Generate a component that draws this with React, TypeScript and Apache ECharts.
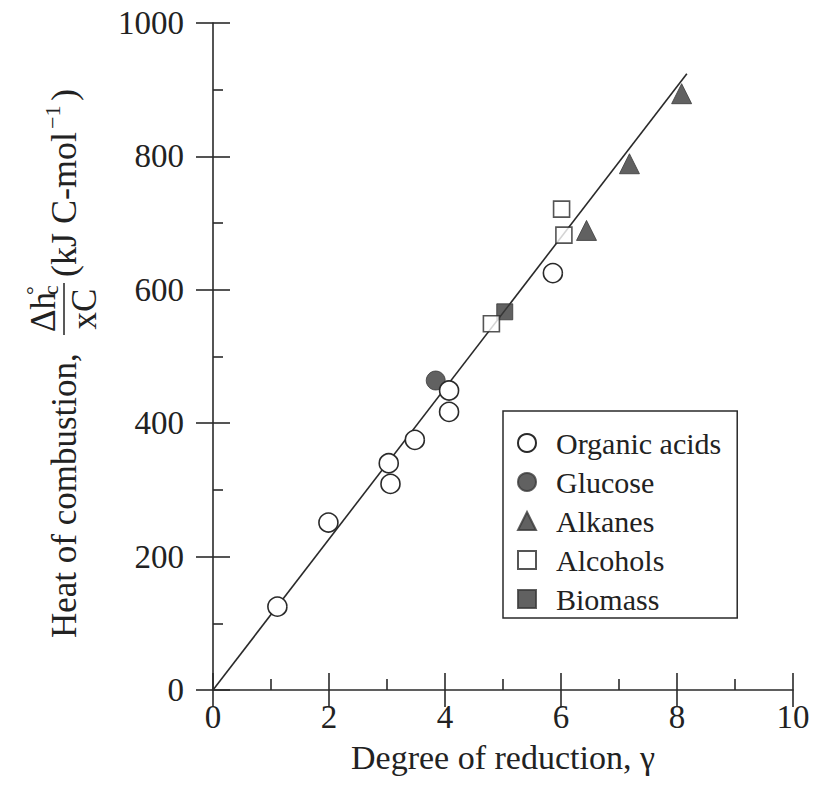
import React, { useEffect, useRef } from "react";
import * as echarts from "echarts";

const xTicks = { min: 0, max: 10, interval: 2 };
const yTicks = { min: 0, max: 1000, interval: 200 };

const organicAcids: [number, number][] = [
  [1.11, 125], [1.99, 251], [3.03, 340], [3.06, 309], [3.48, 375],
  [4.07, 449], [4.07, 417], [5.86, 625],
];
const glucose: [number, number][] = [[3.84, 464]];
const alkanes: [number, number][] = [[6.44, 689], [7.18, 789], [8.08, 894]];
const alcohols: [number, number][] = [[4.8, 549], [6.01, 721], [6.05, 682]];
const biomass: [number, number][] = [[5.03, 567]];
const fitLine: [number, number][] = [[0, 0], [8.17, 924]];

const legendNames = ["Organic acids", "Glucose", "Alkanes", "Alcohols", "Biomass"];

const FONT = '"Liberation Serif", "Times New Roman", serif';
const INK = "#222";
const DARK = "#3a3a3a";

export default function App() {
  const ref = useRef<HTMLDivElement>(null);
  useEffect(() => {
    if (!ref.current) return;
    const chart = echarts.init(ref.current, undefined, { renderer: "svg" });
    const lineStyle = { color: "#2a2a2a", width: 1.6 };
    const baseX = {
      type: "value" as const,
      min: xTicks.min,
      max: xTicks.max,
      interval: xTicks.interval,
      splitLine: { show: false },
      gridIndex: 0,
    };
    const baseY = {
      type: "value" as const,
      min: yTicks.min,
      max: yTicks.max,
      interval: yTicks.interval,
      splitLine: { show: false },
      gridIndex: 0,
    };
    const txt = (text: string, x: number, y: number, size: number, align: string, va: string) => ({
      type: "text",
      x,
      y,
      style: { text, fontSize: size, fontFamily: FONT, fill: INK, align, verticalAlign: va },
    });
    chart.setOption({
      animation: false,
      backgroundColor: "#ffffff",
      grid: { left: 213, right: 28, top: 23, bottom: 111, containLabel: false },
      xAxis: [
        {
          ...baseX,
          position: "bottom",
          axisLine: { show: true, lineStyle },
          axisTick: { show: true, inside: true, length: 17, lineStyle },
          minorTick: { show: true, splitNumber: 2, length: 11, lineStyle },
          axisLabel: { fontSize: 33, fontFamily: FONT, color: INK, margin: 10, formatter: (v: number) => String(v) },
          name: "Degree of reduction, γ",
          nameLocation: "middle",
          nameGap: 50,
          nameTextStyle: { fontSize: 34, fontFamily: FONT, color: INK },
        },
        {
          ...baseX,
          position: "bottom",
          axisLine: { show: false },
          axisTick: { show: true, inside: false, length: 17, lineStyle },
          minorTick: { show: false },
          axisLabel: { show: false },
        },
      ],
      yAxis: [
        {
          ...baseY,
          position: "left",
          axisLine: { show: true, lineStyle },
          axisTick: { show: true, inside: true, length: 17, lineStyle },
          minorTick: { show: true, splitNumber: 2, length: 10, lineStyle },
          axisLabel: { fontSize: 33, fontFamily: FONT, color: INK, margin: 29, formatter: (v: number) => String(v) },
        },
        {
          ...baseY,
          position: "left",
          axisLine: { show: false },
          axisTick: { show: true, inside: false, length: 17, lineStyle },
          minorTick: { show: false },
          axisLabel: { show: false },
        },
      ],
      legend: {
        data: legendNames,
        orient: "vertical",
        left: 503,
        top: 411,
        padding: [17, 16, 4, 14],
        itemGap: 9,
        itemWidth: 18,
        itemHeight: 18,
        borderColor: "#2a2a2a",
        borderWidth: 1.5,
        textStyle: { fontSize: 30, fontFamily: FONT, color: INK, lineHeight: 30, padding: [0, 0, 0, 15] },
      },
      series: [
        {
          type: "line",
          data: fitLine,
          symbol: "none",
          lineStyle: { color: "#2a2a2a", width: 1.6 },
          silent: true,
          z: 1,
        },
        {
          name: "Glucose",
          type: "scatter",
          data: glucose,
          symbol: "circle",
          symbolSize: 19,
          itemStyle: { color: DARK, borderColor: DARK, borderWidth: 1 },
          z: 2,
        },
        {
          name: "Organic acids",
          type: "scatter",
          data: organicAcids,
          symbol: "circle",
          symbolSize: 19,
          itemStyle: { color: "#ffffff", borderColor: "#2a2a2a", borderWidth: 1.6, opacity: 1 },
          z: 3,
        },
        {
          name: "Biomass",
          type: "scatter",
          data: biomass,
          symbol: "rect",
          symbolSize: 16,
          itemStyle: { color: DARK, borderColor: DARK, borderWidth: 1 },
          z: 2,
        },
        {
          name: "Alcohols",
          type: "scatter",
          data: alcohols,
          symbol: "rect",
          symbolSize: 16,
          itemStyle: { color: "#ffffff", borderColor: "#2a2a2a", borderWidth: 1.6 },
          z: 3,
        },
        {
          name: "Alkanes",
          type: "scatter",
          data: alkanes,
          symbol: "triangle",
          symbolSize: 20,
          itemStyle: { color: DARK, borderColor: DARK, borderWidth: 1 },
          z: 3,
        },
      ],
      graphic: [
        {
          type: "group",
          x: 64,
          y: 638,
          rotation: Math.PI / 2,
          children: [
            txt("Heat of combustion,", 0, 0, 35, "left", "middle"),
            txt("Δh", 306, -3, 35, "left", "bottom"),
            txt("c", 343, -3, 22, "left", "bottom"),
            txt("°", 343, -20, 22, "left", "bottom"),
            {
              type: "line",
              shape: { x1: 303, y1: 0, x2: 355, y2: 0 },
              style: { stroke: INK, lineWidth: 1.5 },
            },
            txt("xC", 329, 3, 35, "center", "top"),
            txt("(kJ C-mol", 361, 0, 36, "left", "middle"),
            txt("−1", 509, -12, 22, "left", "middle"),
            txt(")", 537, 0, 36, "left", "middle"),
          ],
        },
      ],
    });
    return () => chart.dispose();
  }, []);
  return (
    <div
      ref={ref}
      style={{ position: "absolute", left: 0, top: 0, width: 821, height: 801, background: "#fff" }}
    />
  );
}
